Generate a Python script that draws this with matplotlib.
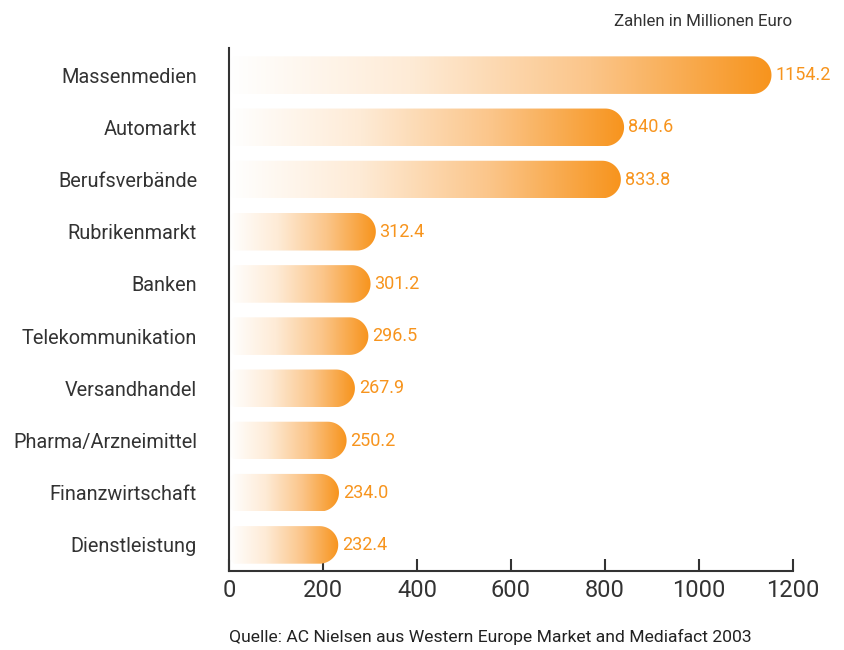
import numpy as np
import matplotlib
matplotlib.use("Agg")
import matplotlib.pyplot as plt
from matplotlib.colors import LinearSegmentedColormap
from matplotlib.path import Path
from matplotlib.patches import PathPatch

categories = [
    "Massenmedien", "Automarkt", "Berufsverbände", "Rubrikenmarkt", "Banken",
    "Telekommunikation", "Versandhandel", "Pharma/Arzneimittel",
    "Finanzwirtschaft", "Dienstleistung",
]
values = [1154.2, 840.6, 833.8, 312.4, 301.2, 296.5, 267.9, 250.2, 234.0, 232.4]
value_labels = ["1154.2", "840.6", "833.8", "312.4", "301.2", "296.5",
                "267.9", "250.2", "234.0", "232.4"]
x_ticks = [0, 200, 400, 600, 800, 1000, 1200]

ORANGE = "#F7941D"
DARK = "#333333"
plt.rcParams["font.family"] = ["Roboto", "DejaVu Sans"]

fig = plt.figure(figsize=(8.45, 6.5), dpi=100)
ax = fig.add_axes([229 / 845, 1 - 571 / 650, 564 / 845, 523 / 650])

xmax = 1200
ylim = (9.5, -0.52)
bar_h = 0.72
# data units per pixel, so the round caps stay circular
ux = xmax / 564
uy = (ylim[0] - ylim[1]) / 523
rx = (bar_h / 2 / uy) * ux
rl = 5 * ux  # slight rounding on the left end

cmap = LinearSegmentedColormap.from_list(
    "grad", ["#FFFFFF", "#FEEBD6", "#FBC589", ORANGE])
grad = np.linspace(0, 1, 256).reshape(1, -1)


def bar_path(x1, yc, h):
    y0, y1 = yc - h / 2, yc + h / 2
    t = np.linspace(-np.pi / 2, np.pi / 2, 40)
    cx = max(x1 - rx, rl)
    right = np.column_stack([cx + rx * np.cos(t), yc + (h / 2) * np.sin(t)])
    verts = np.vstack([[[rl, y0]], right, [[rl, y1]], [[0, y1 - 5 * uy]],
                       [[0, y0 + 5 * uy]], [[rl, y0]]])
    return Path(verts)


for i, (v, lab) in enumerate(zip(values, value_labels)):
    patch = PathPatch(bar_path(v, i, bar_h), facecolor="none", edgecolor="none",
                      transform=ax.transData)
    ax.add_patch(patch)
    im = ax.imshow(grad, cmap=cmap, aspect="auto", interpolation="bilinear",
                   extent=[0, v, i + bar_h / 2, i - bar_h / 2], zorder=2)
    im.set_clip_path(patch)
    ax.text(v + 8, i, lab, color=ORANGE, fontsize=13, va="center", ha="left")

ax.set_xlim(0, xmax)
ax.set_ylim(*ylim)
ax.set_yticks(range(len(categories)))
ax.set_yticklabels(categories, fontsize=14.3, color=DARK)
ax.set_xticks(x_ticks)
ax.set_xticklabels([str(t) for t in x_ticks], fontsize=17, color=DARK)
for s in ["top", "right"]:
    ax.spines[s].set_visible(False)
for s in ["left", "bottom"]:
    ax.spines[s].set_linewidth(1.5)
    ax.spines[s].set_color(DARK)
ax.tick_params(axis="y", direction="in", length=9, width=1.5, color=DARK, pad=23)
ax.tick_params(axis="x", direction="in", length=9, width=1.5, color=DARK, pad=6)

fig.text(792 / 845, 1 - 22 / 650, "Zahlen in Millionen Euro", ha="right",
         va="center", fontsize=12.2, color=DARK)
fig.text(490 / 845, 1 - 637 / 650,
         "Quelle: AC Nielsen aus Western Europe Market and Mediafact 2003",
         ha="center", va="center", fontsize=12.6, color="#222222")

fig.savefig("out.png", dpi=100)
